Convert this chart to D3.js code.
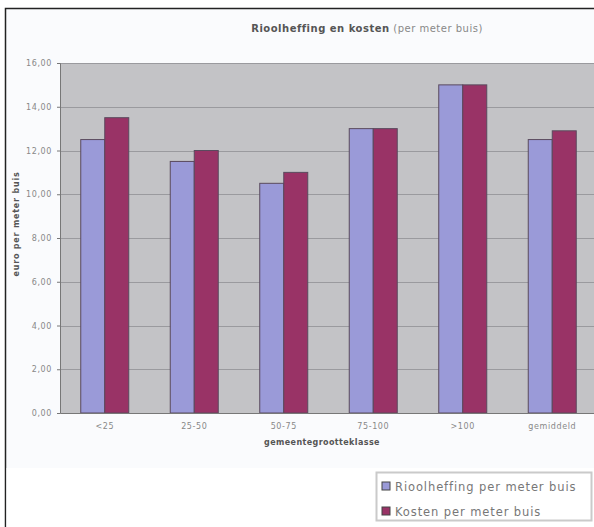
<!DOCTYPE html>
<html>
<head>
<meta charset="utf-8">
<script src="https://cdn.jsdelivr.net/npm/d3@7/dist/d3.min.js"></script>
<style>
  html, body { margin: 0; padding: 0; background: #fff; }
  svg { display: block; }
  text { font-family: "DejaVu Sans", Verdana, sans-serif; }
</style>
</head>
<body>
<svg id="chart" width="594" height="527"></svg>
<script>
const categories = ["<25", "25-50", "50-75", "75-100", ">100", "gemiddeld"];
const rioolheffing = [12.5, 11.5, 10.5, 13.0, 15.0, 12.5];
const kosten = [13.5, 12.0, 11.0, 13.0, 15.0, 12.9];
const seriesNames = ["Rioolheffing per meter buis", "Kosten per meter buis"];
const yTicks = [0, 2, 4, 6, 8, 10, 12, 14, 16];

const colors = ["#9a9ad8", "#993366"];
const svg = d3.select("#chart");

// chart frame
svg.append("rect").attr("x", 5.5).attr("y", 8.5).attr("width", 600).attr("height", 530)
  .attr("fill", "#fafbfd").attr("stroke", "#222").attr("stroke-width", 1.5);
svg.append("rect").attr("x", 6.5).attr("y", 468).attr("width", 600).attr("height", 70)
  .attr("fill", "#ffffff");

const plot = { left: 60, top: 63, right: 597, bottom: 413 };

const x = d3.scaleBand().domain(categories).range([plot.left, plot.right]).paddingInner(0).paddingOuter(0);
const y = d3.scaleLinear().domain([0, 16]).range([plot.bottom, plot.top]);

svg.append("rect").attr("x", plot.left).attr("y", plot.top)
  .attr("width", plot.right - plot.left).attr("height", plot.bottom - plot.top)
  .attr("fill", "#c3c3c6");

// gridlines
svg.append("g").selectAll("line").data(yTicks.filter(d => d > 0)).join("line")
  .attr("x1", plot.left).attr("x2", plot.right)
  .attr("y1", d => Math.round(y(d)) + 0.5).attr("y2", d => Math.round(y(d)) + 0.5)
  .attr("stroke", "#9a9a9e").attr("stroke-width", 1);

// bars
const barW = 24;
const groups = svg.append("g").selectAll("g").data(categories).join("g")
  .attr("transform", d => `translate(${x(d) + x.bandwidth() / 2 - barW},0)`);
[rioolheffing, kosten].forEach((vals, si) => {
  groups.append("rect")
    .attr("x", si * barW)
    .attr("y", (d, i) => y(vals[i]))
    .attr("width", barW)
    .attr("height", (d, i) => y(0) - y(vals[i]))
    .attr("fill", colors[si])
    .attr("stroke", "#5a4a5e").attr("stroke-width", 1);
});

// axes
const yAxis = d3.axisLeft(y).tickValues(yTicks).tickSize(3)
  .tickFormat(d => d3.format(".2f")(d).replace(".", ","));
const gy = svg.append("g").attr("transform", `translate(${plot.left},0)`).call(yAxis);
gy.select(".domain").attr("stroke", "#777");
gy.selectAll(".tick line").attr("stroke", "#777");
gy.selectAll("text").attr("font-size", 8).attr("letter-spacing", 0.6)
  .attr("fill", "#888").attr("dx", -2);

const xAxis = d3.axisBottom(x).tickSize(3).tickSizeOuter(0);
const gx = svg.append("g").attr("transform", `translate(0,${plot.bottom})`).call(xAxis);
gx.select(".domain").attr("stroke", "#777");
gx.selectAll(".tick line").remove();
gx.selectAll("text").attr("font-size", 8).attr("letter-spacing", 0.6)
  .attr("fill", "#888").attr("dy", "1.3em");

// titles
const title = svg.append("text").attr("x", 367).attr("y", 32).attr("text-anchor", "middle")
  .attr("font-size", 10).attr("letter-spacing", 0.5).attr("fill", "#555");
title.append("tspan").attr("font-weight", "bold").text("Rioolheffing en kosten");
title.append("tspan").text(" (per meter buis)").attr("fill", "#888");

svg.append("text").attr("x", 322).attr("y", 445).attr("text-anchor", "middle")
  .attr("font-size", 8).attr("letter-spacing", 0.4).attr("font-weight", "bold").attr("fill", "#555")
  .text("gemeentegrootteklasse");

svg.append("text").attr("transform", "translate(19,224) rotate(-90)").attr("text-anchor", "middle")
  .attr("font-size", 8).attr("letter-spacing", 0.8).attr("font-weight", "bold").attr("fill", "#555")
  .text("euro per meter buis");

// legend
const lg = svg.append("g").attr("transform", "translate(376,472)");
lg.append("rect").attr("x", 0.5).attr("y", 0.5).attr("width", 215).attr("height", 48)
  .attr("fill", "#fff").attr("stroke", "#cacaca").attr("stroke-width", 2);
seriesNames.forEach((n, i) => {
  const row = lg.append("g").attr("transform", `translate(6,${10 + i * 25})`);
  row.append("rect").attr("width", 8).attr("height", 8).attr("fill", colors[i]).attr("stroke", "#444");
  row.append("text").attr("x", 13).attr("y", 8.5).attr("font-size", 11.5).attr("letter-spacing", 0.9)
    .attr("fill", "#777").text(n);
});
</script>
</body>
</html>
